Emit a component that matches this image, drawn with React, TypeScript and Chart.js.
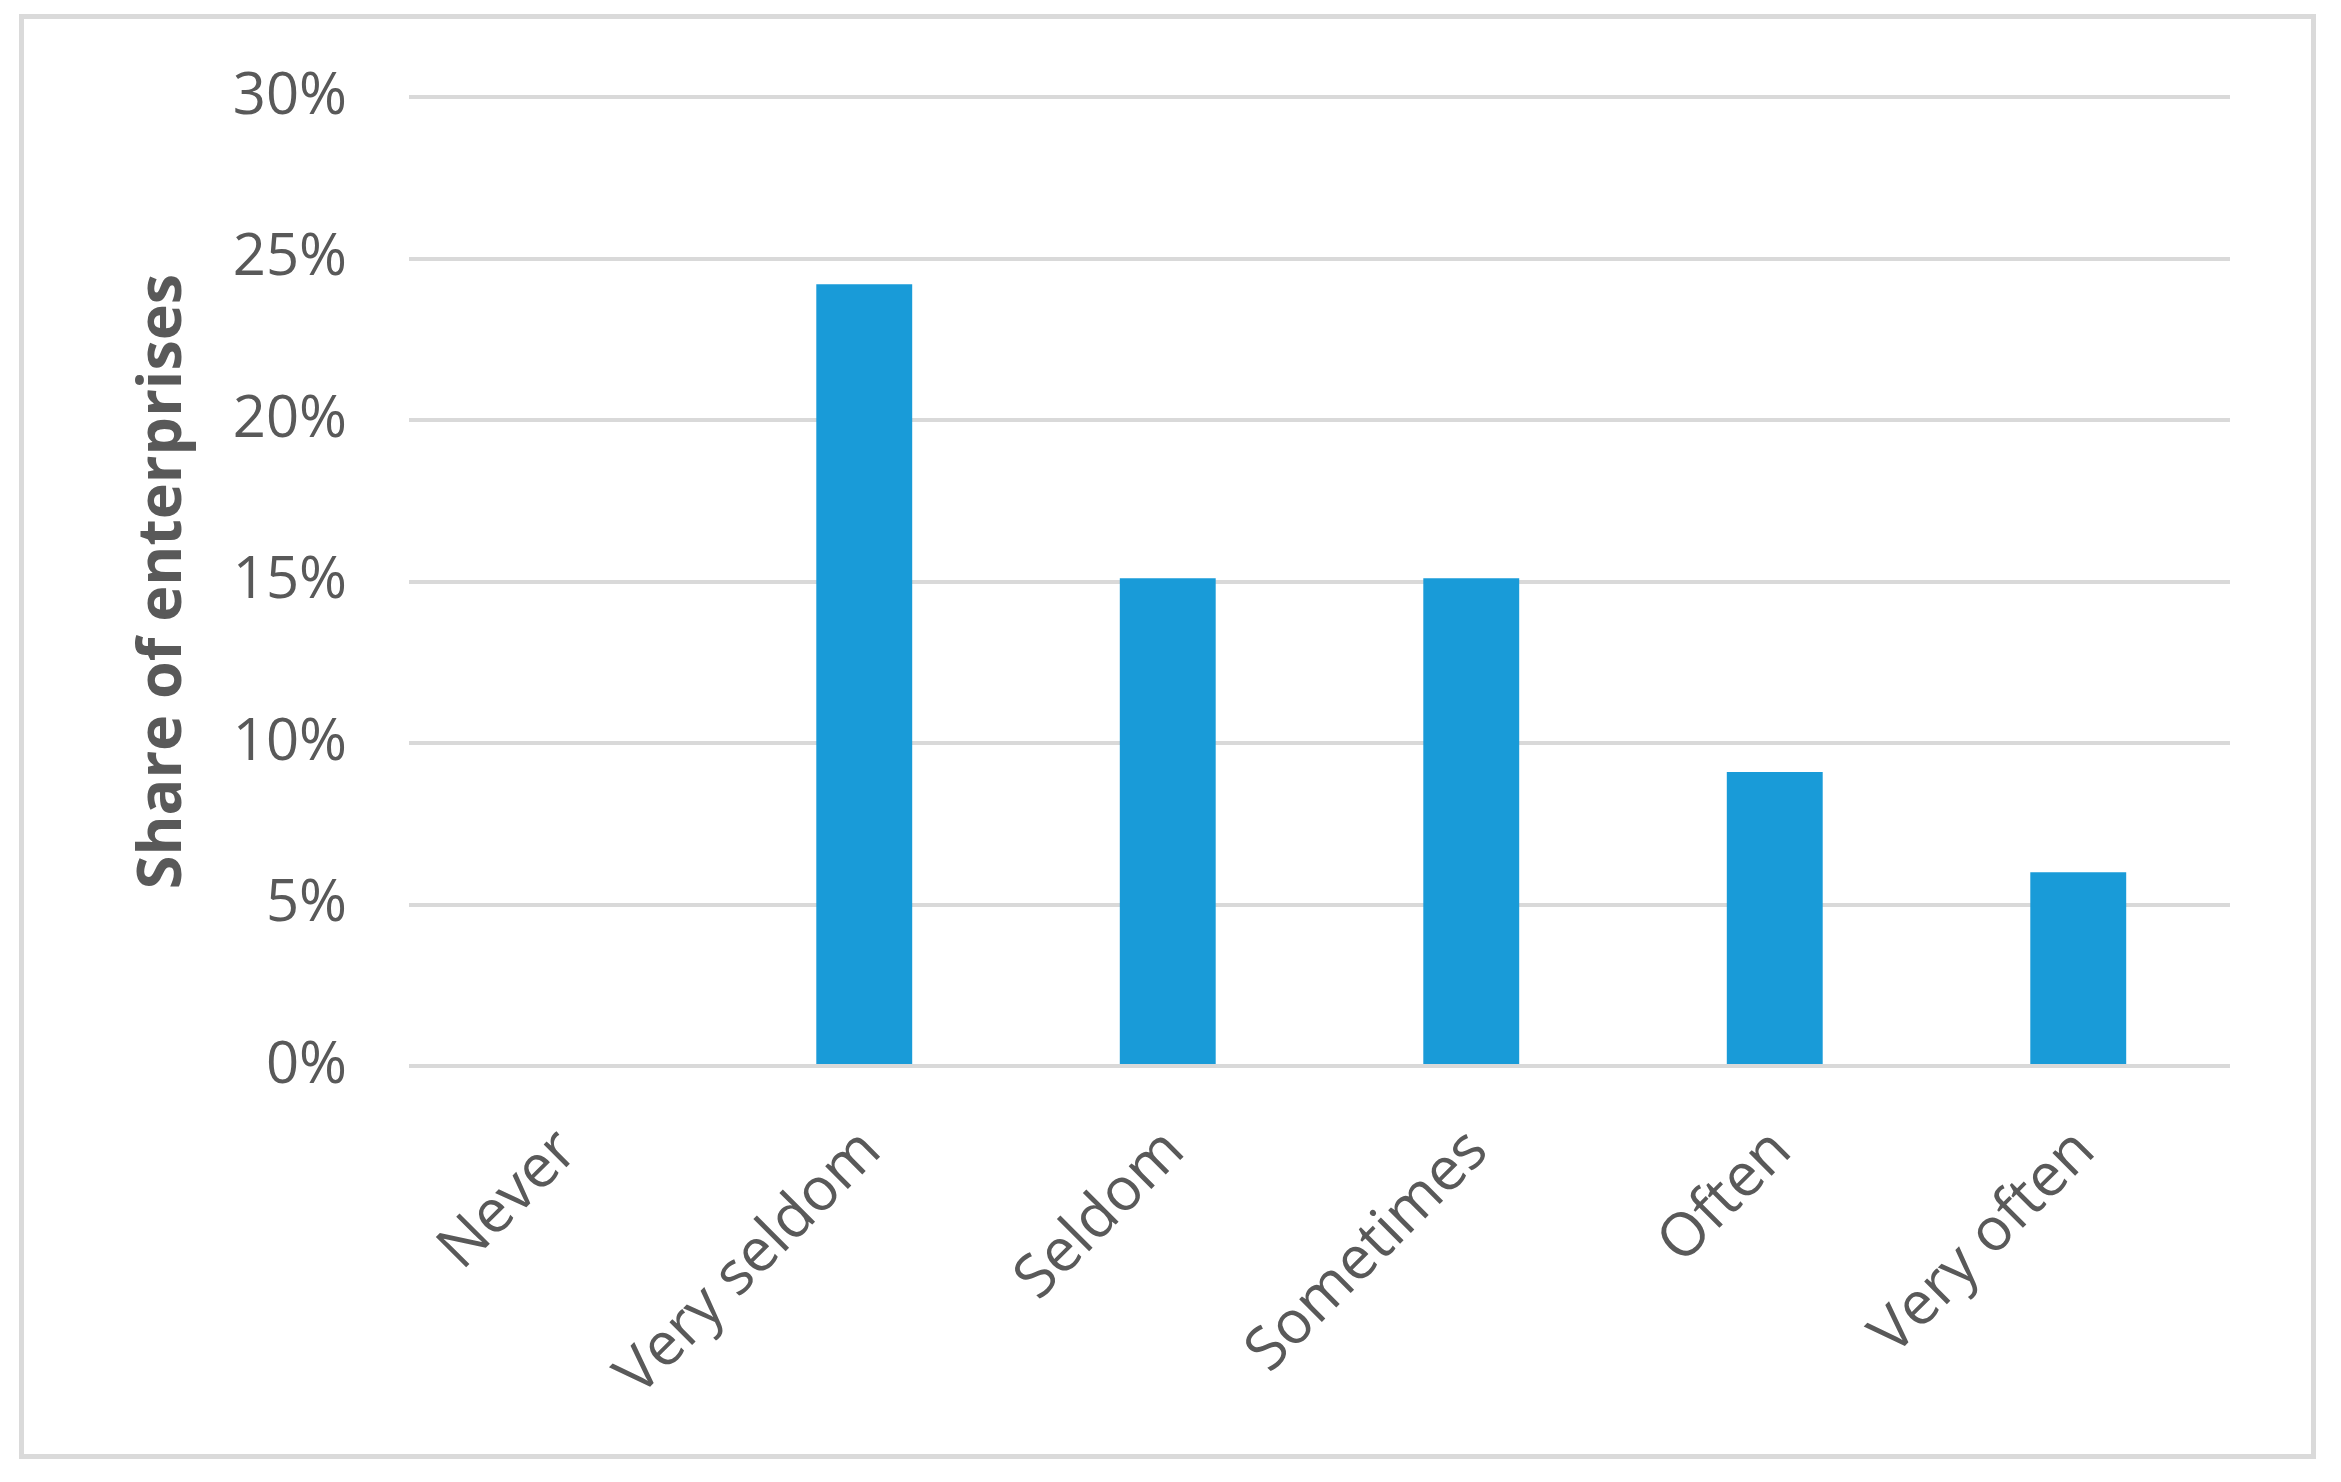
import React, { useEffect, useRef } from "react";
import { Chart, registerables } from "chart.js";

Chart.register(...registerables);

const categories = ["Never", "Very seldom", "Seldom", "Sometimes", "Often", "Very often"];
const shares = [0, 24.2, 15.1, 15.1, 9.1, 6.0];
const yTicks = [0, 5, 10, 15, 20, 25, 30];
const yTitle = "Share of enterprises";

const FONT = "'Open Sans', 'Noto Sans', sans-serif";
const GREY_TEXT = "#595959";

export default function App() {
  const ref = useRef<HTMLCanvasElement>(null);

  useEffect(() => {
    if (!ref.current) return;
    const chart = new Chart(ref.current, {
      type: "bar",
      data: {
        labels: categories,
        datasets: [
          {
            data: shares,
            backgroundColor: "#199BD8",
            borderWidth: 0,
            barPercentage: 0.316,
            categoryPercentage: 1,
          },
        ],
      },
      options: {
        animation: false,
        responsive: false,
        maintainAspectRatio: false,
        layout: { padding: { left: 100, right: 111, top: 97, bottom: 0 } },
        plugins: { legend: { display: false }, tooltip: { enabled: false }, title: { display: false } },
        scales: {
          x: {
            grid: { display: false, drawTicks: false },
            border: { display: false },
            ticks: {
              autoSkip: false,
              minRotation: 45,
              maxRotation: 45,
              padding: 68,
              color: GREY_TEXT,
              showLabelBackdrop: true,
              backdropColor: "rgba(0,0,0,0)",
              backdropPadding: 0,
              font: { family: FONT, size: 60, lineHeight: 0.34 },
            },
            afterFit: (s: any) => {
              s.height = 416;
            },
          },
          y: {
            min: 0,
            max: 30,
            afterBuildTicks: (s: any) => {
              s.ticks = yTicks.map((v) => ({ value: v }));
            },
            grid: { color: "#d9d9d9", lineWidth: 4, drawTicks: false },
            border: { display: false },
            ticks: {
              padding: 62,
              color: GREY_TEXT,
              font: { family: FONT, size: 58 },
              callback: (v: any) => `${v}%`,
            },
            title: {
              display: true,
              text: yTitle,
              color: GREY_TEXT,
              font: { family: FONT, size: 61, weight: "bold" },
              padding: { top: 27, bottom: 0 },
            },
            afterFit: (s: any) => {
              s.width = 309;
            },
          },
        },
      },
    });
    return () => chart.destroy();
  }, []);

  return (
    <div style={{ position: "absolute", left: 0, top: 0, width: 2341, height: 1482, background: "#ffffff" }}>
      <canvas ref={ref} width={2341} height={1482} style={{ display: "block", position: "absolute", left: 0, top: 0 }} />
      <div
        style={{
          position: "absolute",
          left: 19,
          top: 14,
          width: 2297,
          height: 1445,
          boxSizing: "border-box",
          border: "5px solid #dadada",
          pointerEvents: "none",
        }}
      />
    </div>
  );
}
